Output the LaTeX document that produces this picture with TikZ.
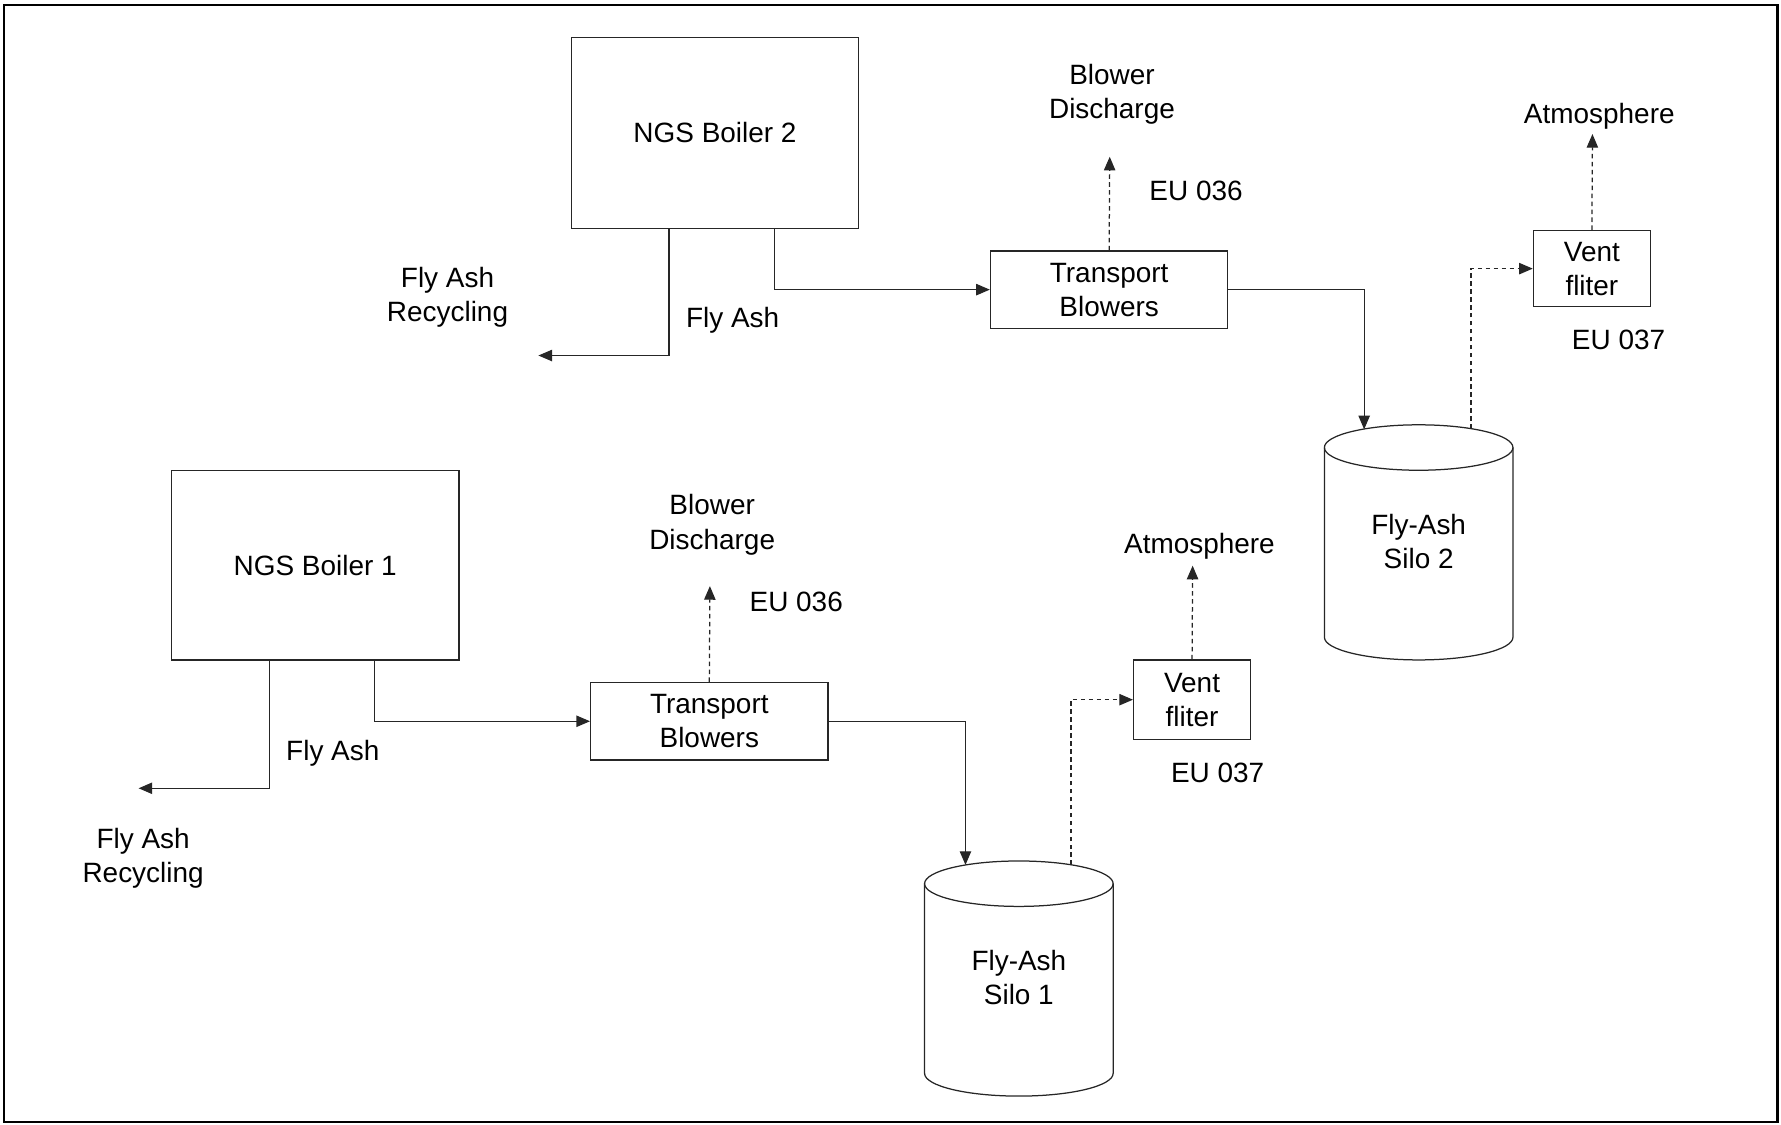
\documentclass[tikz,border=0pt]{standalone}
\usepackage{fontspec}
\setmainfont{Liberation Sans}
\usetikzlibrary{arrows.meta}
\begin{document}
\begin{tikzpicture}[x=1pt,y=-1pt,
  every node/.style={font=\fontsize{24.6}{30}\selectfont, align=center, inner sep=0pt},
  box/.style={draw=black!85, line width=1.1pt},
  flow/.style={draw=black!85, line width=1.1pt, -{Triangle[length=12pt,width=10pt]}},
  vent/.style={flow, dash pattern=on 4pt off 3pt}]

\useasboundingbox (0,0) rectangle (1568,990);
% outer frame
\draw[line width=2.2pt] (3.5,4.5) rectangle (1565,988);

% ---------- line 2 (upper) ----------
\node[box, minimum width=253pt, minimum height=168pt] (boiler2) at (629.5,117) {NGS Boiler 2};
\node[box, minimum width=209pt, minimum height=68pt] (tb2) at (976.5,255) {Transport\\Blowers};
\node[box, minimum width=103pt, minimum height=67pt] (vf2) at (1401.5,236.5) {Vent\\fliter};

\node (silo2) at (1249,477) {Fly-Ash\\Silo 2};
\draw[box] (1249,394) ellipse [x radius=83, y radius=20];
\draw[box] (1166,394) -- (1166,561) arc[start angle=180, end angle=0, x radius=83, y radius=20] -- (1332,394);

\node (rec2lbl) at (394,262) {Fly Ash\\Recycling};
\node (fa2lbl) at (645,282) {Fly Ash};
\node (bd2lbl) at (979,83) {Blower\\Discharge};
\node (eu36b) at (1053,168) {EU 036};
\node (atm2lbl) at (1408,102) {Atmosphere};
\node (eu37b) at (1425,299) {EU 037};

\coordinate (rec2) at (474,313);
\coordinate (bd2) at (977,138);
\coordinate (s2in) at (1201,378);
\coordinate (s2out) at (1295,377.5);
\coordinate (atm2) at (1402,118);

\draw[flow] ([xshift=-40.5pt]boiler2.south) |- (rec2);
\draw[flow] ([xshift=52.5pt]boiler2.south) |- (tb2.west);
\draw[vent] (tb2.north) -- (bd2);
\draw[flow] (tb2.east) -| (s2in);
\draw[vent] (s2out) |- (vf2.west);
\draw[vent] (vf2.north) -- (atm2);

% ---------- line 1 (lower) ----------
\node[box, minimum width=253pt, minimum height=167pt] (boiler1) at (277.5,497.5) {NGS Boiler 1};
\node[box, minimum width=209pt, minimum height=68pt] (tb1) at (624.5,635) {Transport\\Blowers};
\node[box, minimum width=103pt, minimum height=70pt] (vf1) at (1049.5,616) {Vent\\fliter};

\node (silo1) at (897,861) {Fly-Ash\\Silo 1};
\draw[box] (897,778) ellipse [x radius=83, y radius=20];
\draw[box] (814,778) -- (814,945) arc[start angle=180, end angle=0, x radius=83, y radius=20] -- (980,778);

\node (rec1lbl) at (126,756) {Fly Ash\\Recycling};
\node (fa1lbl) at (293,663) {Fly Ash};
\node (bd1lbl) at (627,462) {Blower\\Discharge};
\node (eu36a) at (701,530) {EU 036};
\node (atm1lbl) at (1056,481) {Atmosphere};
\node (eu37a) at (1072,680) {EU 037};

\coordinate (rec1) at (122,694);
\coordinate (bd1) at (625,516);
\coordinate (s1in) at (850,761.5);
\coordinate (s1out) at (943,761.5);
\coordinate (atm1) at (1050,498);

\draw[flow] ([xshift=-40.5pt]boiler1.south) |- (rec1);
\draw[flow] ([xshift=52.5pt]boiler1.south) |- (tb1.west);
\draw[vent] (tb1.north) -- (bd1);
\draw[flow] (tb1.east) -| (s1in);
\draw[vent] (s1out) |- (vf1.west);
\draw[vent] (vf1.north) -- (atm1);
\end{tikzpicture}
\end{document}
